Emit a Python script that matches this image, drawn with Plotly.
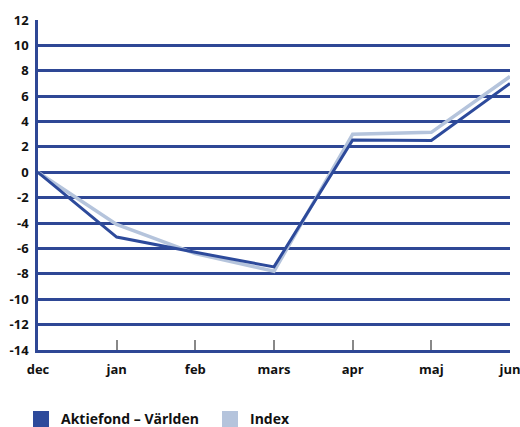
import plotly.graph_objects as go

months = ["dec", "jan", "feb", "mars", "apr", "maj", "jun"]
fund = [0, -5.1, -6.3, -7.45, 2.55, 2.5, 7.0]
index_vals = [0, -4.1, -6.4, -7.8, 3.0, 3.15, 7.55]
y_ticks = list(range(-14, 13, 2))

FUND_COLOR = "#2d4a9b"
INDEX_COLOR = "#b5c4dc"
GRID_COLOR = "#2e4795"
FONT = "Open Sans"

x = list(range(len(months)))

fig = go.Figure()
fig.add_trace(go.Scatter(x=x, y=index_vals, mode="lines",
                         line=dict(color=INDEX_COLOR, width=3.5), showlegend=False))
fig.add_trace(go.Scatter(x=x, y=fund, mode="lines",
                         line=dict(color=FUND_COLOR, width=3), showlegend=False))
# legend entries with square swatches
fig.add_trace(go.Scatter(x=[None], y=[None], mode="markers", name="<b>Aktiefond – Världen</b>",
                         marker=dict(symbol="square", size=16, color=FUND_COLOR)))
fig.add_trace(go.Scatter(x=[None], y=[None], mode="markers", name="<b>Index</b>",
                         marker=dict(symbol="square", size=16, color=INDEX_COLOR)))

fig.update_layout(
    width=520, height=427,
    margin=dict(l=38, r=10, t=20, b=77, autoexpand=False),
    plot_bgcolor="white", paper_bgcolor="white",
    font=dict(family=FONT, size=13, color="#111111"),
    showlegend=True,
    legend=dict(orientation="h", x=-0.036, xanchor="left", y=-0.21, yanchor="middle",
                entrywidth=144, entrywidthmode="pixels",
                font=dict(family=FONT, size=14, color="#111111"),
                itemclick=False),
    xaxis=dict(range=[0, 6], tickvals=x, ticktext=["<b>%s</b>" % m for m in months],
               showgrid=False, zeroline=False, automargin=False,
               ticklabeloverflow="allow",
               showline=True, linecolor=GRID_COLOR, linewidth=2.5,
               ticks="inside", ticklen=10, tickcolor="#888888", tickwidth=1.5,
               tickfont=dict(family=FONT, size=13, color="#111111"),
               ticklabelstandoff=6),
    yaxis=dict(range=[-14, 12], tickvals=y_ticks, ticktext=["<b>%d</b>" % v for v in y_ticks],
               showgrid=True, gridcolor=GRID_COLOR, gridwidth=2.5, automargin=False,
               ticklabeloverflow="allow",
               zeroline=False, showline=True, linecolor=GRID_COLOR, linewidth=2.5,
               ticks="", tickfont=dict(family=FONT, size=13, color="#111111"),
               ticklabelstandoff=4),
)

fig.write_html("out.html", config={"displayModeBar": False},
               post_script="document.body.style.margin='0';document.body.style.overflow='hidden';")
